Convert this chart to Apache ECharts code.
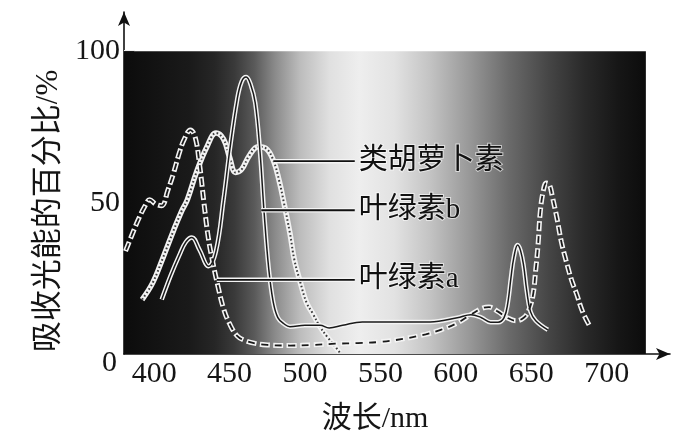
<!DOCTYPE html>
<html>
<head>
<meta charset="utf-8">
<script src="https://cdn.jsdelivr.net/npm/echarts@6/dist/echarts.min.js"></script>
<style>
html,body{margin:0;padding:0;background:#fff;}
#chart{width:698px;height:443px;}
</style>
</head>
<body>
<div id="chart"></div>
<script>
// ---- data (wavelength nm, absorbed %) ----
const xTicks = [400, 450, 500, 550, 600, 650, 700];
const yTicks = [0, 50, 100];
const xTitle = '波长/nm';
const yTitle = '吸收光能的百分比/%';
const seriesNames = ['类胡萝卜素', '叶绿素b', '叶绿素a'];

// 叶绿素a (dashed)
const chlA = [[381,34],[385,39],[390,45],[394,49],[397,51],[401,49.5],[405,49],[409,54],[413,60],[417,67],[420,71],[424,74],[427,72],[430,63],[433,50],[436,38],[439,30],[442,23],[446,15],[450,10],[455,6],[460,4.5],[467,3.5],[475,3],[490,2.8],[505,3],[520,3.4],[535,3.6],[550,4],[565,5],[580,6.5],[590,8],[600,10],[610,13],[617,15],[622,15.5],[628,14],[634,12],[640,11],[645,12],[648,14],[651,19],[653,28],[654.5,36],[656,47],[658,54],[660,56.5],[662,56],[664,52],[667,45],[670,37],[673,31],[677,24],[680,20],[684,14],[689,9]];
// 叶绿素b (solid)
const chlB = [[405,18],[411,26],[417,33],[421,37],[425,38.5],[430,34.5],[436,29],[441,34],[446,51],[450,67],[455,84],[458,90],[461,91.5],[464,89],[467,83],[470,68],[473,46],[476,28],[479,17],[482,12],[486,10],[490,9],[500,9.5],[510,9.5],[516,8.6],[525,9.5],[538,10.6],[561,10.6],[583,10.6],[601,12],[610,13],[617,12],[623,10.5],[628,10.5],[632,12],[634.5,17],[636.5,25],[638.5,32],[641,36],[643,34],[645,29],[647,21],[649.5,14],[653,11],[661,8]];
// 类胡萝卜素 (dotted)
const carot = [[392,18],[399,23.5],[406,32],[413,41],[418,47],[422,51],[428,60],[435,68.5],[441,73],[446,71],[450,65],[454,60],[458,61],[463,65.5],[469,68.5],[474,68],[479,64],[483,57],[486,50],[490,40],[493,31],[497,23.5],[501,17],[505,13.5],[510,9],[515,5.5],[520,2.5],[523,0.5]];

// leader lines for the labels
const leaderCarot = [[479,63.7],[533,63.7]];
const leaderB = [[471,47.5],[533,47.5]];
const leaderA = [[441.5,24.5],[533,24.5]];

// shaded spectrum band
const bandX = [380, 726];
const bandY = [0, 100];

const chart = echarts.init(document.getElementById('chart'));

const serif = "'Liberation Serif', 'Noto Sans CJK SC', serif";
const grad = new echarts.graphic.LinearGradient(0, 0, 1, 0, [
  {offset: 0, color: '#0c0c0c'},
  {offset: 0.126, color: '#1a1a1a'},
  {offset: 0.174, color: '#262626'},
  {offset: 0.212, color: '#3a3a3a'},
  {offset: 0.25, color: '#5a5a5a'},
  {offset: 0.289, color: '#8a8a8a'},
  {offset: 0.337, color: '#bcbcbc'},
  {offset: 0.394, color: '#e0e0e0'},
  {offset: 0.451, color: '#eeeeee'},
  {offset: 0.518, color: '#e2e2e2'},
  {offset: 0.585, color: '#c4c4c4'},
  {offset: 0.662, color: '#989898'},
  {offset: 0.738, color: '#6a6a6a'},
  {offset: 0.815, color: '#454545'},
  {offset: 0.881, color: '#2a2a2a'},
  {offset: 0.948, color: '#161616'},
  {offset: 1, color: '#0c0c0c'}
]);

function line(data, width, color, type, z, dashOffset) {
  return {
    type: 'line', data: data, smooth: 0.4, symbol: 'none', z: z,
    xAxisIndex: 0, yAxisIndex: 0, silent: true, animation: false,
    lineStyle: {width: width, color: color, type: type || 'solid', dashOffset: dashOffset || 0, cap: 'butt'}
  };
}
function leader(data, name) {
  return {
    type: 'line', data: data, symbol: 'none', z: 8, silent: true, animation: false,
    lineStyle: {width: 1.8, color: '#111'},
    endLabel: {
      show: true, formatter: name, distance: 4,
      fontSize: 29, fontFamily: serif, color: '#111',
      textBorderColor: 'rgba(255,255,255,0.6)', textBorderWidth: 2
    }
  };
}
function leaderHalo(data) {
  return {type: 'line', data: data, symbol: 'none', z: 7, silent: true, animation: false,
    lineStyle: {width: 4.5, color: '#f4f4f4'}};
}

const option = {
  backgroundColor: '#fff',
  animation: false,
  grid: {left: 124, right: 28, top: 12, bottom: 89},
  xAxis: [{
    type: 'value', min: 380, max: 742,
    axisLine: {show: true, lineStyle: {color: '#111', width: 1.6}, symbol: ['none', 'arrow'], symbolSize: [9, 14]},
    axisTick: {show: true, inside: true, length: 13, customValues: xTicks, lineStyle: {color: '#f0f0f0', width: 4}},
    axisLabel: {customValues: xTicks, fontSize: 30, fontFamily: serif, color: '#151515', margin: 5},
    splitLine: {show: false},
    name: xTitle, nameLocation: 'middle', nameGap: 50,
    nameTextStyle: {fontSize: 30, fontFamily: serif, color: '#151515', padding: [0, 44, 0, 0]}
  }, {
    type: 'value', min: 380, max: 742, position: 'bottom',
    axisLine: {show: false},
    axisTick: {show: true, inside: true, length: 12, customValues: xTicks, lineStyle: {color: '#444', width: 1}},
    axisLabel: {show: false}, splitLine: {show: false}
  }],
  yAxis: [{
    type: 'value', min: 0, max: 113,
    axisLine: {show: true, lineStyle: {color: '#111', width: 1.6}, symbol: ['none', 'arrow'], symbolSize: [9, 14]},
    axisTick: {show: true, inside: true, length: 11, customValues: [50, 100], lineStyle: {color: '#f0f0f0', width: 4}},
    axisLabel: {
      customValues: yTicks, fontSize: 30, fontFamily: serif, color: '#151515', margin: 4,
      formatter: function (v) { return v === 0 ? '{z|0}' : String(v); },
      rich: {z: {fontSize: 30, fontFamily: serif, color: '#151515', padding: [18, 3, 0, 0]}}
    },
    splitLine: {show: false},
    name: yTitle, nameLocation: 'middle', nameRotate: 90, nameGap: 53,
    nameTextStyle: {fontSize: 31, fontFamily: serif, color: '#151515', padding: [0, 56, 0, 0]}
  }, {
    type: 'value', min: 0, max: 113, position: 'left',
    axisLine: {show: false},
    axisTick: {show: true, inside: true, length: 10, customValues: [50, 100], lineStyle: {color: '#444', width: 1}},
    axisLabel: {show: false}, splitLine: {show: false}
  }],
  series: [
    {
      type: 'line', data: [], z: 1, silent: true,
      markArea: {
        silent: true,
        itemStyle: {color: grad},
        data: [[{xAxis: bandX[0], yAxis: bandY[0]}, {xAxis: bandX[1], yAxis: bandY[1]}]]
      }
    },
    // carotenoid: dotted beads
    line(carot, 5.5, '#f2f2f2', 'solid', 3),
    line(carot, 2, '#3a3a3a', [1.6, 2.4], 4),
    // chlorophyll b: double solid
    line(chlB, 4.5, '#f4f4f4', 'solid', 5),
    line(chlB, 1.5, '#1a1a1a', 'solid', 6),
    // chlorophyll a: hollow dashes
    line(chlA, 5, '#f4f4f4', [10, 3.5], 5),
    line(chlA, 1.8, '#1a1a1a', [7, 6.5], 6, -1.5),
    leaderHalo(leaderCarot), leader(leaderCarot, seriesNames[0]),
    leaderHalo(leaderB), leader(leaderB, seriesNames[1]),
    leaderHalo(leaderA), leader(leaderA, seriesNames[2])
  ]
};
chart.setOption(option);
</script>
</body>
</html>
